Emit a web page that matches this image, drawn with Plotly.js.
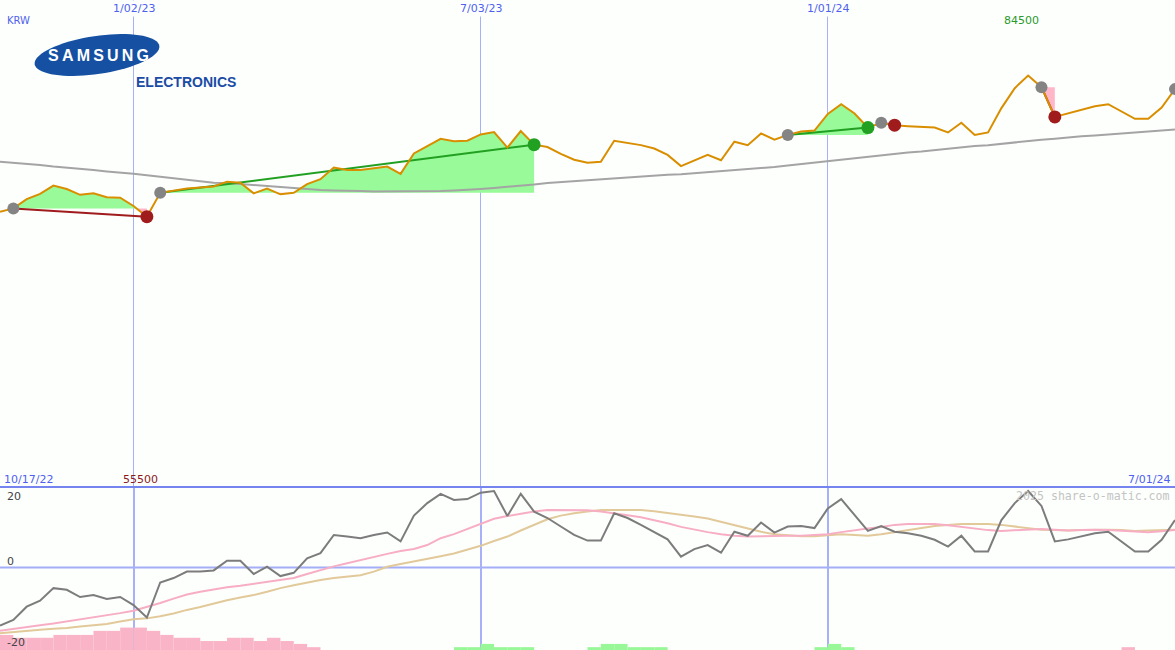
<!DOCTYPE html>
<html><head><meta charset="utf-8">
<script src="https://cdn.plot.ly/plotly-3.0.1.min.js"></script>
<style>html,body{margin:0;padding:0;background:#fdfffd;} #chart{width:1175px;height:650px;}</style>
</head><body><div id="chart"></div>
<script>
// ---------- DATA ----------
const dates = ['2022-10-24','2022-10-31','2022-11-07','2022-11-14','2022-11-21','2022-11-28','2022-12-05','2022-12-12','2022-12-19','2022-12-26',
 '2023-01-02','2023-01-09','2023-01-16','2023-01-23','2023-01-30','2023-02-06','2023-02-13','2023-02-20','2023-02-27','2023-03-06',
 '2023-03-13','2023-03-20','2023-03-27','2023-04-03','2023-04-10','2023-04-17','2023-04-24','2023-05-01','2023-05-08','2023-05-15',
 '2023-05-22','2023-05-29','2023-06-05','2023-06-12','2023-06-19','2023-06-26','2023-07-03','2023-07-10','2023-07-17','2023-07-24',
 '2023-07-31','2023-08-07','2023-08-14','2023-08-21','2023-08-28','2023-09-04','2023-09-11','2023-09-18','2023-09-25','2023-10-02',
 '2023-10-09','2023-10-16','2023-10-23','2023-10-30','2023-11-06','2023-11-13','2023-11-20','2023-11-27','2023-12-04','2023-12-11',
 '2023-12-18','2023-12-25','2024-01-01','2024-01-08','2024-01-15','2024-01-22','2024-01-29','2024-02-05','2024-02-12','2024-02-19',
 '2024-02-26','2024-03-04','2024-03-11','2024-03-18','2024-03-25','2024-04-01','2024-04-08','2024-04-15','2024-04-22','2024-04-29',
 '2024-05-06','2024-05-13','2024-05-20','2024-05-27','2024-06-03','2024-06-10','2024-06-17','2024-06-24','2024-07-01'];

const price = [56500,57200,59100,60200,61900,61200,60000,60300,59500,59400,
 57700,55500,60400,60800,61300,61500,61700,62700,62500,60300,
 61300,60100,60400,62200,63200,65600,65100,65100,65400,65800,
 64300,68500,70000,71500,71000,71100,72400,72900,69700,73100,
 70300,69800,68400,67200,66600,66800,71100,70700,70200,69500,
 68200,65900,67100,68200,67100,70900,70200,72600,71300,72300,
 73000,73200,76600,78600,76700,73800,74800,74300,74100,74000,
 73800,72800,74800,72300,72800,77800,81900,84500,82100,76000,
 76700,77400,78200,78600,77100,75600,75600,77900,81700];

const movingAvg = [66800,66600,66300,66100,65800,65600,65300,65100,64800,64600,
 64300,64000,63700,63300,63000,62700,62500,62400,62200,62000,
 61700,61500,61300,61100,61000,60900,60900,60800,60700,60700,
 60700,60700,60700,60800,60900,61000,61200,61400,61600,61800,
 62100,62400,62600,62800,63000,63100,63300,63500,63700,63900,
 64100,64200,64400,64600,64800,65000,65300,65500,65700,66000,
 66300,66600,66900,67200,67600,67900,68200,68400,68700,68900,
 69200,69400,69700,70000,70200,70500,70800,71000,71300,71500,
 71800,72000,72200,72400,72600,72800,73000,73200,73400];

const oscillator = [-14.4,-13,-9.7,-8.2,-5.1,-5.5,-7.3,-6.8,-7.8,-7.3,
 -9.3,-12.4,-3.7,-2.6,-1,-1,-0.7,1.7,1.7,-1.6,
 0.25,-2.1,-1.3,2.3,3.6,8.1,7.7,7.3,8.1,8.7,
 6.5,12.9,16,18.3,16.8,17,18.6,19,12.8,18.3,
 13.9,12.3,10.2,8.1,6.7,6.7,13.5,12.3,10.6,8.9,
 7,2.7,4.6,5.6,3.7,8.9,7.9,11.2,8.7,10.2,
 10.3,9.8,14.7,17,13.1,9.1,10.3,8.9,8.5,7.9,
 6.9,5.2,7.9,4,4,11.8,16,19,15.3,6.5,
 7,7.7,8.5,8.9,6.5,4,4,6.9,11.8];

const oscFast = [-15.7,-15.2,-14.8,-14.3,-13.9,-13.4,-12.9,-12.4,-11.9,-11.3,
 -10.7,-9.8,-8.8,-7.7,-6.7,-6,-5.4,-4.9,-4.5,-4,
 -3.6,-3.1,-2.6,-1.6,-0.6,0.3,1.1,1.9,2.7,3.4,
 4.1,4.6,5.6,7.3,8.3,9.6,11,12.1,12.8,13.4,
 13.9,14.3,14.3,14.3,14.2,13.9,13.5,13,12.5,11.8,
 11,10.1,9.4,8.8,8.3,7.9,7.7,7.8,7.9,7.9,
 7.9,8.1,8.3,8.8,9.3,9.7,10.1,10.6,10.8,10.8,
 10.8,10.5,10.1,9.6,9.3,9.1,9.3,9.5,9.6,9.4,
 9.2,9.3,9.4,9.3,9.1,8.9,8.8,9,9.3];

const oscSlow = [-16.3,-16,-15.6,-15.4,-15.2,-15,-14.6,-14.3,-14,-13.4,
 -12.8,-12.6,-12.1,-11.4,-10.5,-9.8,-8.9,-8.1,-7.4,-6.8,
 -6,-5.1,-4.4,-3.7,-3.1,-2.6,-2.3,-1.9,-1,0.2,
 0.9,1.5,2.1,2.8,3.5,4.4,5.4,6.6,7.7,9.2,
 10.6,12,12.9,13.5,13.9,14.3,14.3,14.3,14.3,14,
 13.6,13.1,12.7,12.2,11.4,10.5,9.7,8.9,8.3,8,
 7.8,7.8,8.1,8.3,8.1,7.9,8.3,8.8,9.3,9.8,
 10.3,10.6,10.8,10.8,10.8,10.6,10.2,9.8,9.4,9.3,
 9.2,9.3,9.4,9.4,9.3,9.1,9.2,9.3,9.4];

const histogram = [-3.7,-3,-3,-3,-3.7,-3.7,-3.7,-4.7,-4.7,-5.5,
 -5.5,-4.7,-3.7,-3,-3,-2.2,-2.2,-3,-3,-2.2,
 -3,-2.2,-1.5,-0.7,0,0,0,0,0,0,
 0,0,0,0,0.7,0.7,1.5,0.7,0.7,0.7,
 0,0,0,0,0.7,1.5,1.5,0.7,0.7,0.7,
 0,0,0,0,0,0,0,0,0,0,
 0,0.7,1.5,0.7,0,0,0,0,0,0,
 0,0,0,0,0,0,0,0,0,0,
 0,0,0,0,-0.7,0,0,0,0];

const tradeEntry = ['2022-10-31','2023-01-16','2023-12-11','2024-01-29','2024-04-22','2024-07-01'];
const tradeExit  = ['2023-01-09','2023-07-31','2024-01-22','2024-02-05','2024-04-29', null];

const gridDates  = ['2023-01-02','2023-07-03','2024-01-01'];
const gridLabels = ['1/02/23','7/03/23','1/01/24'];
const xStart = '2022-10-24', xEnd = '2024-07-01';
const startLabel = '10/17/22', endLabel = '7/01/24';
const currency = 'KRW';
const oscTickVals = [20, 0, -20];
const oscTickText = ['20', '0', '-20'];
const watermark = '2025 share-o-matic.com';
const logoWord = 'SAMSUNG', logoSub = 'ELECTRONICS';

// ---------- STYLE ----------
const W = 1175, H = 650;
const BG = '#fdfffd';
const LOWER_FRAC = 163 / 650;
const C = {
  price: '#d98e00', ma: '#a4a4a4', greenFill: '#98fa98', pinkFill: '#ffb6c8',
  win: '#22a022', loss: '#a01c1c', entry: '#848484',
  osc: '#7c7c7c', fast: '#f7aec4', slow: '#e2c99a',
  barNeg: '#f9b4c8', barPos: '#98f898',
  grid: '#a8b0f8', sep: '#7584ee', zero: '#a4aef6', label: '#4f5ff0'
};
const FONT = 'DejaVu Sans';
const ms = d => Date.parse(d + 'T00:00:00Z');
const idx = d => dates.indexOf(d);

const traces = [];

// ---------- trade fills ----------
function tradeFill(si, ei) {
  const L = price[si];
  const xs = [], ys = [];
  for (let i = si; i <= ei; i++) {
    xs.push(ms(dates[i])); ys.push(price[i]);
    if (i < ei) {
      const a = price[i] - L, b = price[i + 1] - L;
      if (a * b < 0) {
        const t = a / (a - b);
        xs.push(ms(dates[i]) + t * (ms(dates[i + 1]) - ms(dates[i])));
        ys.push(L);
      }
    }
  }
  const base = xs.map(() => L);
  const common = {mode: 'lines', line: {width: 0}, hoverinfo: 'skip', showlegend: false, xaxis: 'x', yaxis: 'y'};
  traces.push(Object.assign({x: xs, y: base}, common));
  traces.push(Object.assign({x: xs, y: ys.map(v => Math.max(v, L)), fill: 'tonexty', fillcolor: C.greenFill}, common));
  traces.push(Object.assign({x: xs, y: base}, common));
  traces.push(Object.assign({x: xs, y: ys.map(v => Math.min(v, L)), fill: 'tonexty', fillcolor: C.pinkFill}, common));
}
tradeEntry.forEach((d, j) => { if (tradeExit[j]) tradeFill(idx(d), idx(tradeExit[j])); });

// moving average
traces.push({x: dates, y: movingAvg, mode: 'lines', line: {color: C.ma, width: 2}, xaxis: 'x', yaxis: 'y', hoverinfo: 'skip'});

// trade lines
tradeEntry.forEach((d, j) => {
  if (!tradeExit[j]) return;
  const a = idx(d), b = idx(tradeExit[j]);
  const col = price[b] >= price[a] ? C.win : C.loss;
  traces.push({x: [dates[a], dates[b]], y: [price[a], price[b]], mode: 'lines', line: {color: col, width: 2}, xaxis: 'x', yaxis: 'y', hoverinfo: 'skip'});
});

// price
traces.push({x: dates, y: price, mode: 'lines', line: {color: C.price, width: 2}, xaxis: 'x', yaxis: 'y'});

// entry dots
traces.push({x: tradeEntry, y: tradeEntry.map(d => price[idx(d)]), mode: 'markers',
  marker: {color: C.entry, size: 12}, xaxis: 'x', yaxis: 'y'});
// exit dots
const ex = tradeExit.map((d, j) => d ? j : -1).filter(j => j >= 0);
traces.push({x: ex.map(j => tradeExit[j]), y: ex.map(j => price[idx(tradeExit[j])]), mode: 'markers',
  marker: {size: 13, color: ex.map(j => price[idx(tradeExit[j])] >= price[idx(tradeEntry[j])] ? C.win : C.loss)},
  xaxis: 'x', yaxis: 'y'});

// lower panel: histogram bars
traces.push({type: 'bar', x: dates, y: histogram.map(Math.abs), offset: 0, width: 7 * 86400000,
  marker: {color: histogram.map(v => v < 0 ? C.barNeg : C.barPos), line: {width: 0}},
  xaxis: 'x2', yaxis: 'y3', hoverinfo: 'skip'});
traces.push({x: dates, y: oscSlow, mode: 'lines', line: {color: C.slow, width: 2}, xaxis: 'x2', yaxis: 'y2'});
traces.push({x: dates, y: oscFast, mode: 'lines', line: {color: C.fast, width: 2}, xaxis: 'x2', yaxis: 'y2'});
traces.push({x: dates, y: oscillator, mode: 'lines', line: {color: C.osc, width: 2}, xaxis: 'x2', yaxis: 'y2'});

// ---------- logo ellipse ----------
function ellipsePath(cx, cy, a, b, deg) {
  const th = deg * Math.PI / 180; let p = '';
  for (let i = 0; i <= 72; i++) {
    const t = i / 72 * 2 * Math.PI;
    const px = cx + a * Math.cos(t) * Math.cos(th) - b * Math.sin(t) * Math.sin(th);
    const py = cy - (a * Math.cos(t) * Math.sin(th) + b * Math.sin(t) * Math.cos(th));
    p += (i ? 'L' : 'M') + (px / W).toFixed(5) + ',' + (1 - py / H).toFixed(5);
  }
  return p + 'Z';
}

const minV = Math.min(...price), maxV = Math.max(...price);
const minI = price.indexOf(minV), maxI = price.indexOf(maxV);
const lblFont = (c, s) => ({family: FONT, size: s || 11, color: c});
const spaced = logoWord.split('').join('\u2009');

const annotations = [
  {xref: 'paper', yref: 'paper', x: 5 / W, y: 1 - 21 / H, xanchor: 'left', yanchor: 'middle', text: currency, showarrow: false, font: lblFont(C.label, 10)},
  {xref: 'paper', yref: 'paper', x: 2 / W, y: 1 - 479 / H, xanchor: 'left', yanchor: 'middle', text: startLabel, showarrow: false, font: lblFont(C.label)},
  {xref: 'paper', yref: 'paper', x: 1172 / W, y: 1 - 479 / H, xanchor: 'right', yanchor: 'middle', text: endLabel, showarrow: false, font: lblFont(C.label)},
  {xref: 'x', yref: 'paper', x: dates[minI], xshift: -6, y: 1 - 479 / H, xanchor: 'center', yanchor: 'middle', text: String(minV), showarrow: false, font: lblFont('#8b1a1a')},
  {xref: 'x', yref: 'paper', x: dates[maxI], xshift: -7, y: 1 - 21 / H, xanchor: 'center', yanchor: 'middle', text: String(maxV), showarrow: false, font: lblFont('#2a9a2a')},
  {xref: 'paper', yref: 'paper', x: 1172 / W, y: 1 - 496 / H, xanchor: 'right', yanchor: 'middle', text: watermark, showarrow: false, font: {family: 'DejaVu Sans Mono', size: 11.6, color: '#c4c4c4'}},
  {xref: 'paper', yref: 'paper', x: 98.5 / W, y: 1 - 56 / H, xanchor: 'center', yanchor: 'middle', text: '<b>' + spaced + '</b>', showarrow: false, font: {family: 'Liberation Sans', size: 16, color: '#ffffff'}},
  {xref: 'paper', yref: 'paper', x: 135 / W, y: 1 - 82 / H, xanchor: 'left', yanchor: 'middle', text: '<b>' + logoSub + '</b>', showarrow: false, bgcolor: BG, borderpad: 0, font: {family: 'Liberation Sans', size: 14, color: '#1a4ca6'}}
];
gridDates.forEach((d, i) => annotations.push({xref: 'x', yref: 'paper', x: d, y: 1 - 8 / H, xanchor: 'center', yanchor: 'middle',
  text: gridLabels[i], showarrow: false, bgcolor: BG, font: lblFont(C.label)}));
oscTickVals.forEach((v, i) => annotations.push({xref: 'paper', yref: 'y2', x: 5 / W, y: v, yshift: v > 0 ? -9 : 6, xanchor: 'left', yanchor: 'middle',
  text: oscTickText[i], showarrow: false, font: lblFont('#444444')}));

const axX = {type: 'date', range: [xStart, xEnd], tickvals: gridDates, showticklabels: false, ticks: '',
  showgrid: true, gridcolor: C.grid, gridwidth: 1, zeroline: false, showline: false, fixedrange: true};
const hiddenY = {showgrid: false, showticklabels: false, ticks: '', zeroline: false, showline: false, fixedrange: true};

const layout = {
  width: W, height: H, margin: {l: 0, r: 0, t: 0, b: 0, pad: 0},
  paper_bgcolor: BG, plot_bgcolor: BG, showlegend: false, hovermode: false,
  xaxis: Object.assign({}, axX, {anchor: 'y', domain: [0, 1]}),
  xaxis2: Object.assign({}, axX, {anchor: 'y2', domain: [0, 1], gridwidth: 2}),
  yaxis: Object.assign({}, hiddenY, {domain: [LOWER_FRAC, 1], range: [0, 100000]}),
  yaxis2: Object.assign({}, hiddenY, {domain: [0, LOWER_FRAC], range: [-20.45, 20]}),
  yaxis3: Object.assign({}, hiddenY, {overlaying: 'y2', anchor: 'x2', range: [0, 40]}),
  shapes: [
    {type: 'line', xref: 'paper', yref: 'y2', x0: 0, x1: 1, y0: 0, y1: 0, line: {color: C.zero, width: 2}, layer: 'below'},
    {type: 'line', xref: 'paper', yref: 'paper', x0: 0, x1: 1, y0: LOWER_FRAC, y1: LOWER_FRAC, line: {color: C.sep, width: 2}, layer: 'above'},
    {type: 'path', xref: 'paper', yref: 'paper', path: ellipsePath(97, 55, 63, 19, 8.4), fillcolor: '#1550a2', line: {width: 0}, layer: 'above'}
  ],
  annotations: annotations
};

Plotly.newPlot('chart', traces, layout, {staticPlot: true, displayModeBar: false});
</script>
</body></html>
